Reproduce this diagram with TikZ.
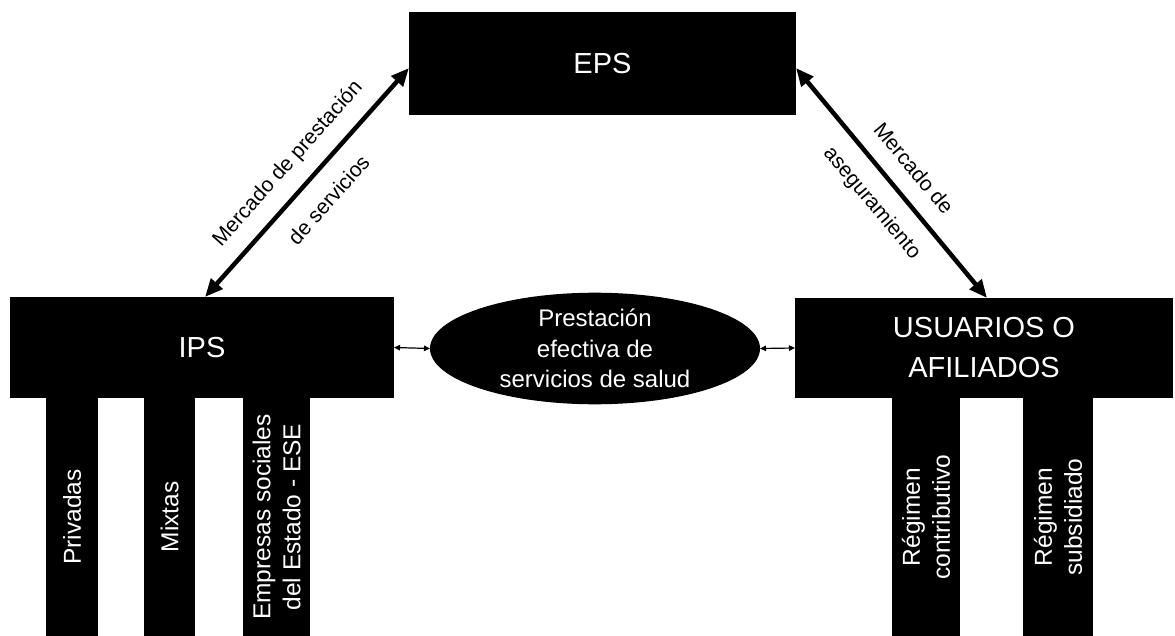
\documentclass[tikz,border=0pt]{standalone}
\usepackage{fontspec}
\setmainfont{Liberation Sans}
\usetikzlibrary{shapes.geometric,arrows.meta}
\begin{document}
\begin{tikzpicture}[x=1pt,y=-1pt,
  blackbox/.style={draw=none,fill=black,text=white,inner sep=0pt,outer sep=0pt,align=center},
  bigtxt/.style={font=\fontsize{29}{40}\selectfont},
  bar/.style={blackbox,rotate=90,font=\fontsize{24.5}{30}\selectfont},
  diaglabel/.style={inner sep=0pt,align=center},
  bigarrow/.style={line width=4.5pt,{Triangle[length=18pt,width=15pt]}-{Triangle[length=18pt,width=15pt]}},
  smallarrow/.style={line width=1.2pt,{Triangle[length=6pt,width=5.5pt]}-{Triangle[length=6pt,width=5.5pt]}}
]
\useasboundingbox (0,0) rectangle (1175,636);
% main boxes
\node[blackbox,bigtxt,minimum width=387pt,minimum height=103pt] (eps) at (602.5,63.5) {EPS};
\node[blackbox,bigtxt,minimum width=384pt,minimum height=101pt] (ips) at (202,347.5) {IPS};
\node[blackbox,bigtxt,minimum width=378pt,minimum height=100pt] (usu) at (984,348) {USUARIOS O\\AFILIADOS};
\node[blackbox,ellipse,minimum width=330pt,minimum height=103pt,font=\fontsize{24}{30.5}\selectfont] (ell) at (595,348.5) {Prestación\\efectiva de\\servicios de salud};
% bars
\node[bar,minimum width=238pt,minimum height=52pt] (priv) at (72,517) {Privadas};
\node[bar,minimum width=238pt,minimum height=51pt] (mix) at (169.5,517) {Mixtas};
\node[bar,minimum width=238pt,minimum height=67pt] (ese) at (276.5,517) {Empresas sociales\\del Estado - ESE};
\node[bar,minimum width=238pt,minimum height=68pt] (contr) at (926,517) {Régimen\\contributivo};
\node[bar,minimum width=238pt,minimum height=70pt] (subs) at (1058,517) {Régimen\\subsidiado};
% connectors
\draw[bigarrow] ([xshift=195pt]ips.north west) -- ([yshift=47pt]eps.south west);
\draw[bigarrow] ([yshift=47pt]eps.south east) -- ([xshift=192pt]usu.north west);
\draw[smallarrow] (ips.east) -- (ell.west);
\draw[smallarrow] (ell.east) -- (usu.west);
% labels
\node[diaglabel,rotate=48.4,font=\fontsize{21}{56}\selectfont] (lleft) at (307.5,181) {Mercado de prestación\\de servicios};
\node[diaglabel,rotate=-50,font=\fontsize{21}{53}\selectfont] (lright) at (892,186.5) {Mercado de\\aseguramiento};
\end{tikzpicture}
\end{document}
